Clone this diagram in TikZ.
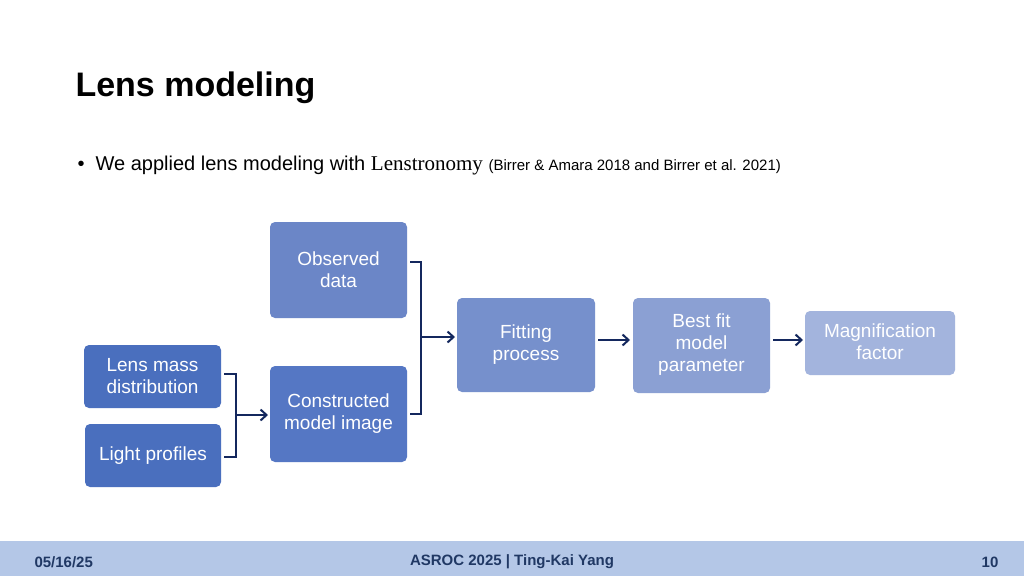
\documentclass[tikz,border=0pt]{standalone}
\usepackage{fontspec}
\setmainfont{Liberation Sans}
\newfontfamily\serifz{Liberation Serif}
\begin{document}
\begin{tikzpicture}[x=1pt,y=-1pt,
  bx/.style={rounded corners=5pt,text=white,align=center,font=\fontsize{19}{22}\selectfont,inner sep=0pt},
  con/.style={draw=arrc,line width=2.2pt},
  arr/.style={con,-{Straight Barb[length=6pt,width=11pt,line width=2pt]}}]
\usetikzlibrary{arrows.meta}
\definecolor{arrc}{HTML}{14285E}
\definecolor{ftc}{HTML}{203864}
\useasboundingbox (0,0) rectangle (1024,576);
\fill[white] (0,0) rectangle (1024,576);
\fill[fill={rgb,255:red,180;green,199;blue,231}] (0,541) rectangle (1024,576);
\node[anchor=west,font=\bfseries\fontsize{34}{40}\selectfont] (title) at (72,88) {Lens modeling};
\node[anchor=west,font=\fontsize{20}{24}\selectfont] (bul) at (74,166) {\textbullet\ \ We applied lens modeling with {\serifz\fontsize{21}{24}\selectfont Lenstronomy} {\fontsize{15}{18}\selectfont(Birrer \& Amara 2018 and Birrer et al. 2021)}};
\node[anchor=west,font=\bfseries\fontsize{15}{18}\selectfont,text=ftc] (date) at (31,562) {05/16/25};
\node[font=\bfseries\fontsize{15}{18}\selectfont,text=ftc] (mid) at (512,562) {ASROC 2025 | Ting-Kai Yang};
\node[font=\bfseries\fontsize{15}{18}\selectfont,text=ftc] (pg) at (990,562) {10};
\fill[fill={rgb,255:red,107;green,134;blue,199},rounded corners=5pt] (270,222) rectangle (407,318);
\node[bx] (obs) at (338.5,270) {Observed\\data};
\fill[fill={rgb,255:red,74;green,111;blue,190},rounded corners=5pt] (84,345) rectangle (221,408);
\node[bx] (lens) at (152.5,376) {Lens mass\\distribution};
\fill[fill={rgb,255:red,74;green,111;blue,190},rounded corners=5pt] (85,424) rectangle (221,487);
\node[bx] (light) at (153,456) {Light profiles};
\fill[fill={rgb,255:red,85;green,119;blue,196},rounded corners=5pt] (270,366) rectangle (407,462);
\node[bx] (cons) at (338.5,414) {Constructed\\model image};
\fill[fill={rgb,255:red,118;green,144;blue,204},rounded corners=5pt] (457,298) rectangle (595,392);
\node[bx] (fit) at (526,345) {Fitting\\process};
\fill[fill={rgb,255:red,139;green,160;blue,211},rounded corners=5pt] (633,298) rectangle (770,393);
\node[bx] (best) at (701.5,345) {Best fit\\model\\parameter};
\fill[fill={rgb,255:red,163;green,180;blue,221},rounded corners=5pt] (805,311) rectangle (955,375);
\node[bx] (mag) at (880,342) {Magnification\\factor};
\coordinate (j1) at (236,415);
\coordinate (j2) at (421,337);
\draw[con] (224,374) -| (236,457) -- (224,457);
\draw[arr] (j1) -- (268,415);
\draw[con] (410,262) -| (421,414) -- (410,414);
\draw[arr] (j2) -- (455,337);
\draw[arr] (598,340) -- (630,340);
\draw[arr] (773,340) -- (803,340);
\end{tikzpicture}
\end{document}
